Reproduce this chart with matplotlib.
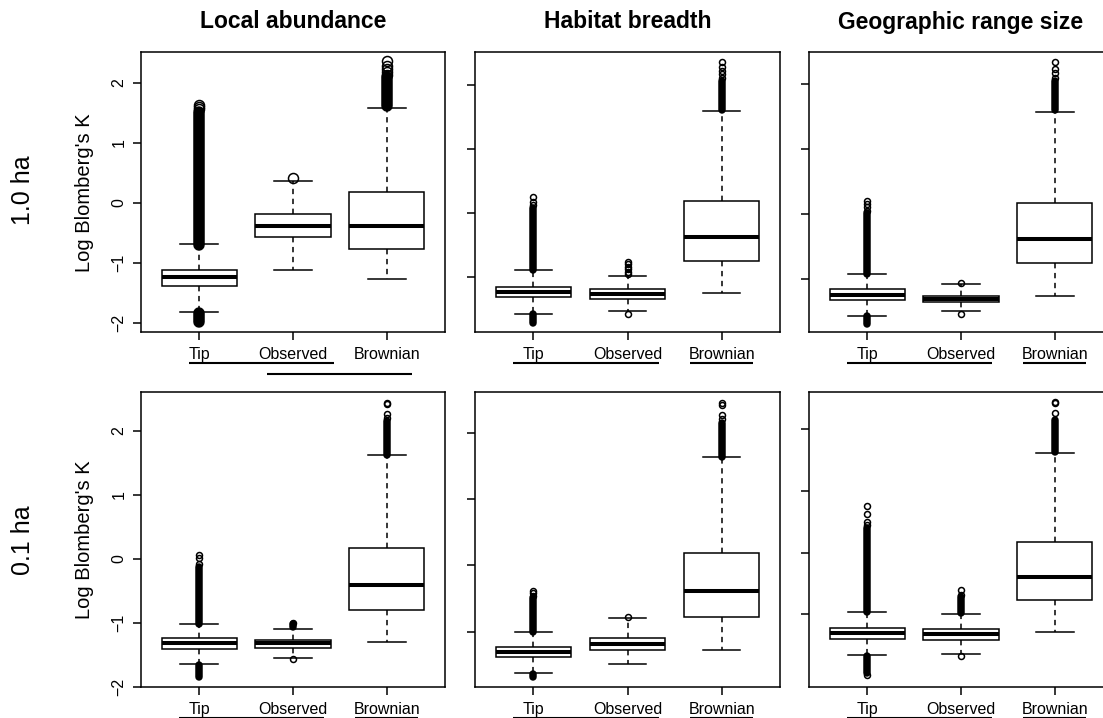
import matplotlib
matplotlib.use("Agg")
import matplotlib.pyplot as plt
import matplotlib.transforms as mtransforms

plt.rcParams['font.family'] = ['Liberation Sans', 'DejaVu Sans']

# column / row headings
traits = ['Local abundance', 'Habitat breadth', 'Geographic range size']
grains = ['1.0 ha', '0.1 ha']
groups = ['Tip', 'Observed', 'Brownian']

# box statistics: (q1, median, q3, lower whisker, upper whisker)
stats_1ha_abund = [(-1.39, -1.23, -1.11, -1.81, -0.69),
                   (-0.57, -0.38, -0.19, -1.11, 0.36),
                   (-0.76, -0.38, 0.18, -1.26, 1.59)]
stats_1ha_habit = [(-1.32, -1.235, -1.155, -1.575, -0.90),
                   (-1.34, -1.27, -1.19, -1.53, -0.985),
                   (-0.75, -0.38, 0.18, -1.25, 1.585)]
stats_1ha_range = [(-1.32, -1.235, -1.155, -1.56, -0.91),
                   (-1.35, -1.30, -1.25, -1.49, -1.075),
                   (-0.75, -0.385, 0.18, -1.255, 1.58)]
stats_01ha_abund = [(-1.40, -1.32, -1.24, -1.64, -1.01),
                    (-1.385, -1.32, -1.26, -1.55, -1.09),
                    (-0.79, -0.40, 0.18, -1.29, 1.62)]
stats_01ha_habit = [(-1.39, -1.314, -1.236, -1.63, -1.01),
                    (-1.276, -1.18, -1.09, -1.49, -0.80),
                    (-0.774, -0.39, 0.18, -1.28, 1.627)]
stats_01ha_range = [(-1.40, -1.31, -1.227, -1.665, -0.97),
                    (-1.41, -1.32, -1.24, -1.65, -0.99),
                    (-0.77, -0.395, 0.18, -1.28, 1.62)]

# single visible outliers
fliers_1ha_abund = [[1.56, 1.60, 1.64], [0.41], [2.14, 2.19, 2.23, 2.28, 2.37]]
fliers_1ha_habit = [[0.12, 0.17, 0.24], [-0.96, -0.92, -0.88, -0.84, -0.80, -0.76, -1.58],
                    [2.10, 2.16, 2.22, 2.28, 2.35]]
fliers_1ha_range = [[0.06, 0.11, 0.16, 0.21], [-1.06, -1.54], [2.10, 2.17, 2.24, 2.35]]
fliers_01ha_abund = [[-0.08, 0.02, 0.06], [-1.0, -1.57], [2.20, 2.27, 2.42, 2.44]]
fliers_01ha_habit = [[-0.46, -0.42, -0.39], [-0.78], [2.20, 2.26, 2.42, 2.44]]
fliers_01ha_range = [[0.45, 0.50, 0.62, 0.757, -1.98], [-0.68, -0.60, -1.67], [2.26, 2.42, 2.44]]

# runs of outliers so dense they merge into a solid streak: (low, high)
dense_1ha_abund = [[(-0.70, 1.52), (-1.99, -1.83)], [], [(1.62, 2.10)]]
dense_1ha_habit = [[(-0.90, 0.08), (-1.72, -1.58)], [], [(1.60, 2.05)]]
dense_1ha_range = [[(-0.91, 0.02), (-1.68, -1.57)], [], [(1.60, 2.05)]]
dense_01ha_abund = [[(-1.01, -0.12), (-1.84, -1.66)], [(-1.07, -1.02)], [(1.63, 2.15)]]
dense_01ha_habit = [[(-1.01, -0.50), (-1.68, -1.64)], [], [(1.63, 2.15)]]
dense_01ha_range = [[(-0.97, 0.40), (-1.95, -1.68)], [(-0.98, -0.72)], [(1.63, 2.15)]]

# y ranges of the panels
ylim_1ha = [(-2.15, 2.517), (-1.86, 2.51), (-1.81, 2.50)]
ylim_01ha = [(-2.0, 2.615), (-1.835, 2.615), (-2.18, 2.61)]

# significance groupings drawn as lines under the group names (x spans)
groupings_1ha = [[(0.89, 2.44), (1.72, 3.27)], [(0.785, 2.33), (2.66, 3.33)], [(0.785, 2.33), (2.66, 3.33)]]
groupings_01ha = [[(0.785, 2.33), (2.66, 3.33)], [(0.785, 2.33), (2.66, 3.33)], [(0.785, 2.33), (2.66, 3.33)]]

stats = [[stats_1ha_abund, stats_1ha_habit, stats_1ha_range],
         [stats_01ha_abund, stats_01ha_habit, stats_01ha_range]]
fliers = [[fliers_1ha_abund, fliers_1ha_habit, fliers_1ha_range],
          [fliers_01ha_abund, fliers_01ha_habit, fliers_01ha_range]]
dense = [[dense_1ha_abund, dense_1ha_habit, dense_1ha_range],
         [dense_01ha_abund, dense_01ha_habit, dense_01ha_range]]
ylims = [ylim_1ha, ylim_01ha]
groupings = [groupings_1ha, groupings_01ha]

W, H = 1103, 718
fig = plt.figure(figsize=(W / 100, H / 100), dpi=100)

col_x = [(141, 445), (475, 780), (809, 1113)]
row_y = [(52, 332), (391.7, 687)]
LW = 1.1


def px_axes(x0, x1, y0, y1):
    return fig.add_axes([x0 / W, 1 - y1 / H, (x1 - x0) / W, (y1 - y0) / H])


for r in range(2):
    for c in range(3):
        ax = px_axes(col_x[c][0], col_x[c][1], row_y[r][0], row_y[r][1])
        big = (r == 0 and c == 0)
        ms = 7.2 if big else 4.3

        bxp_stats = []
        for g in range(3):
            q1, med, q3, lo, hi = stats[r][c][g]
            bxp_stats.append(dict(q1=q1, med=med, q3=q3, whislo=lo, whishi=hi,
                                  fliers=fliers[r][c][g], label=groups[g]))
        ax.bxp(bxp_stats, positions=[1, 2, 3], widths=0.8, capwidths=0.4,
               patch_artist=True, showfliers=True,
               boxprops=dict(facecolor='white', edgecolor='black', linewidth=LW),
               medianprops=dict(color='black', linewidth=2.9, solid_capstyle='butt'),
               whiskerprops=dict(color='black', linewidth=LW, linestyle=(0, (3.5, 3))),
               capprops=dict(color='black', linewidth=LW),
               flierprops=dict(marker='o', markerfacecolor='none', markeredgecolor='black',
                               markersize=ms, markeredgewidth=LW))
        for g in range(3):
            for lo, hi in dense[r][c][g]:
                ax.plot([g + 1, g + 1], [lo, hi], color='black', linewidth=ms + LW,
                        solid_capstyle='round', zorder=3)

        ax.set_xlim(0.38, 3.62)
        ax.set_ylim(*ylims[r][c])
        ax.set_xticks([1, 2, 3])
        ax.set_xticklabels(groups, fontsize=11.5)
        if c == 0:
            yt = [-2, -1, 0, 1, 2]
            ax.set_yticks(yt)
            ax.set_yticklabels([str(v).replace('-', '\u2212') for v in yt],
                               rotation=90, va='center', fontsize=11.5)
        else:
            ax.set_yticks([-1, 0, 1, 2])
            ax.set_yticklabels([])
        ax.tick_params(axis='both', direction='out', length=5.5, width=LW)
        ax.tick_params(axis='x', pad=5)
        ax.tick_params(axis='y', pad=5)
        for sp in ax.spines.values():
            sp.set_linewidth(LW)

        # grouping lines under the category names
        trans = mtransforms.blended_transform_factory(ax.transData, ax.transAxes)
        for i, (x0, x1) in enumerate(groupings[r][c]):
            off = 30.5 if (i == 0 or not big) else 42.3
            t = trans + mtransforms.ScaledTranslation(0, -off / 100, fig.dpi_scale_trans)
            ax.plot([x0, x1], [0, 0], color='black', linewidth=1.5, transform=t,
                    clip_on=False, solid_capstyle='butt')

# headings
for c in range(3):
    xc = (col_x[c][0] + col_x[c][1]) / 2
    fig.text(xc / W, 1 - 22 / H, traits[c], ha='center', va='center',
             fontsize=16.5, fontweight='bold')
for r in range(2):
    yc = [190, 540][r]
    fig.text(23 / W, 1 - yc / H, grains[r], ha='center', va='center',
             rotation=90, fontsize=18)
    fig.text(85 / W, 1 - [193, 540][r] / H, "Log Blomberg's K", ha='center',
             va='center', rotation=90, fontsize=14.5)

fig.savefig('out.png', dpi=100)
